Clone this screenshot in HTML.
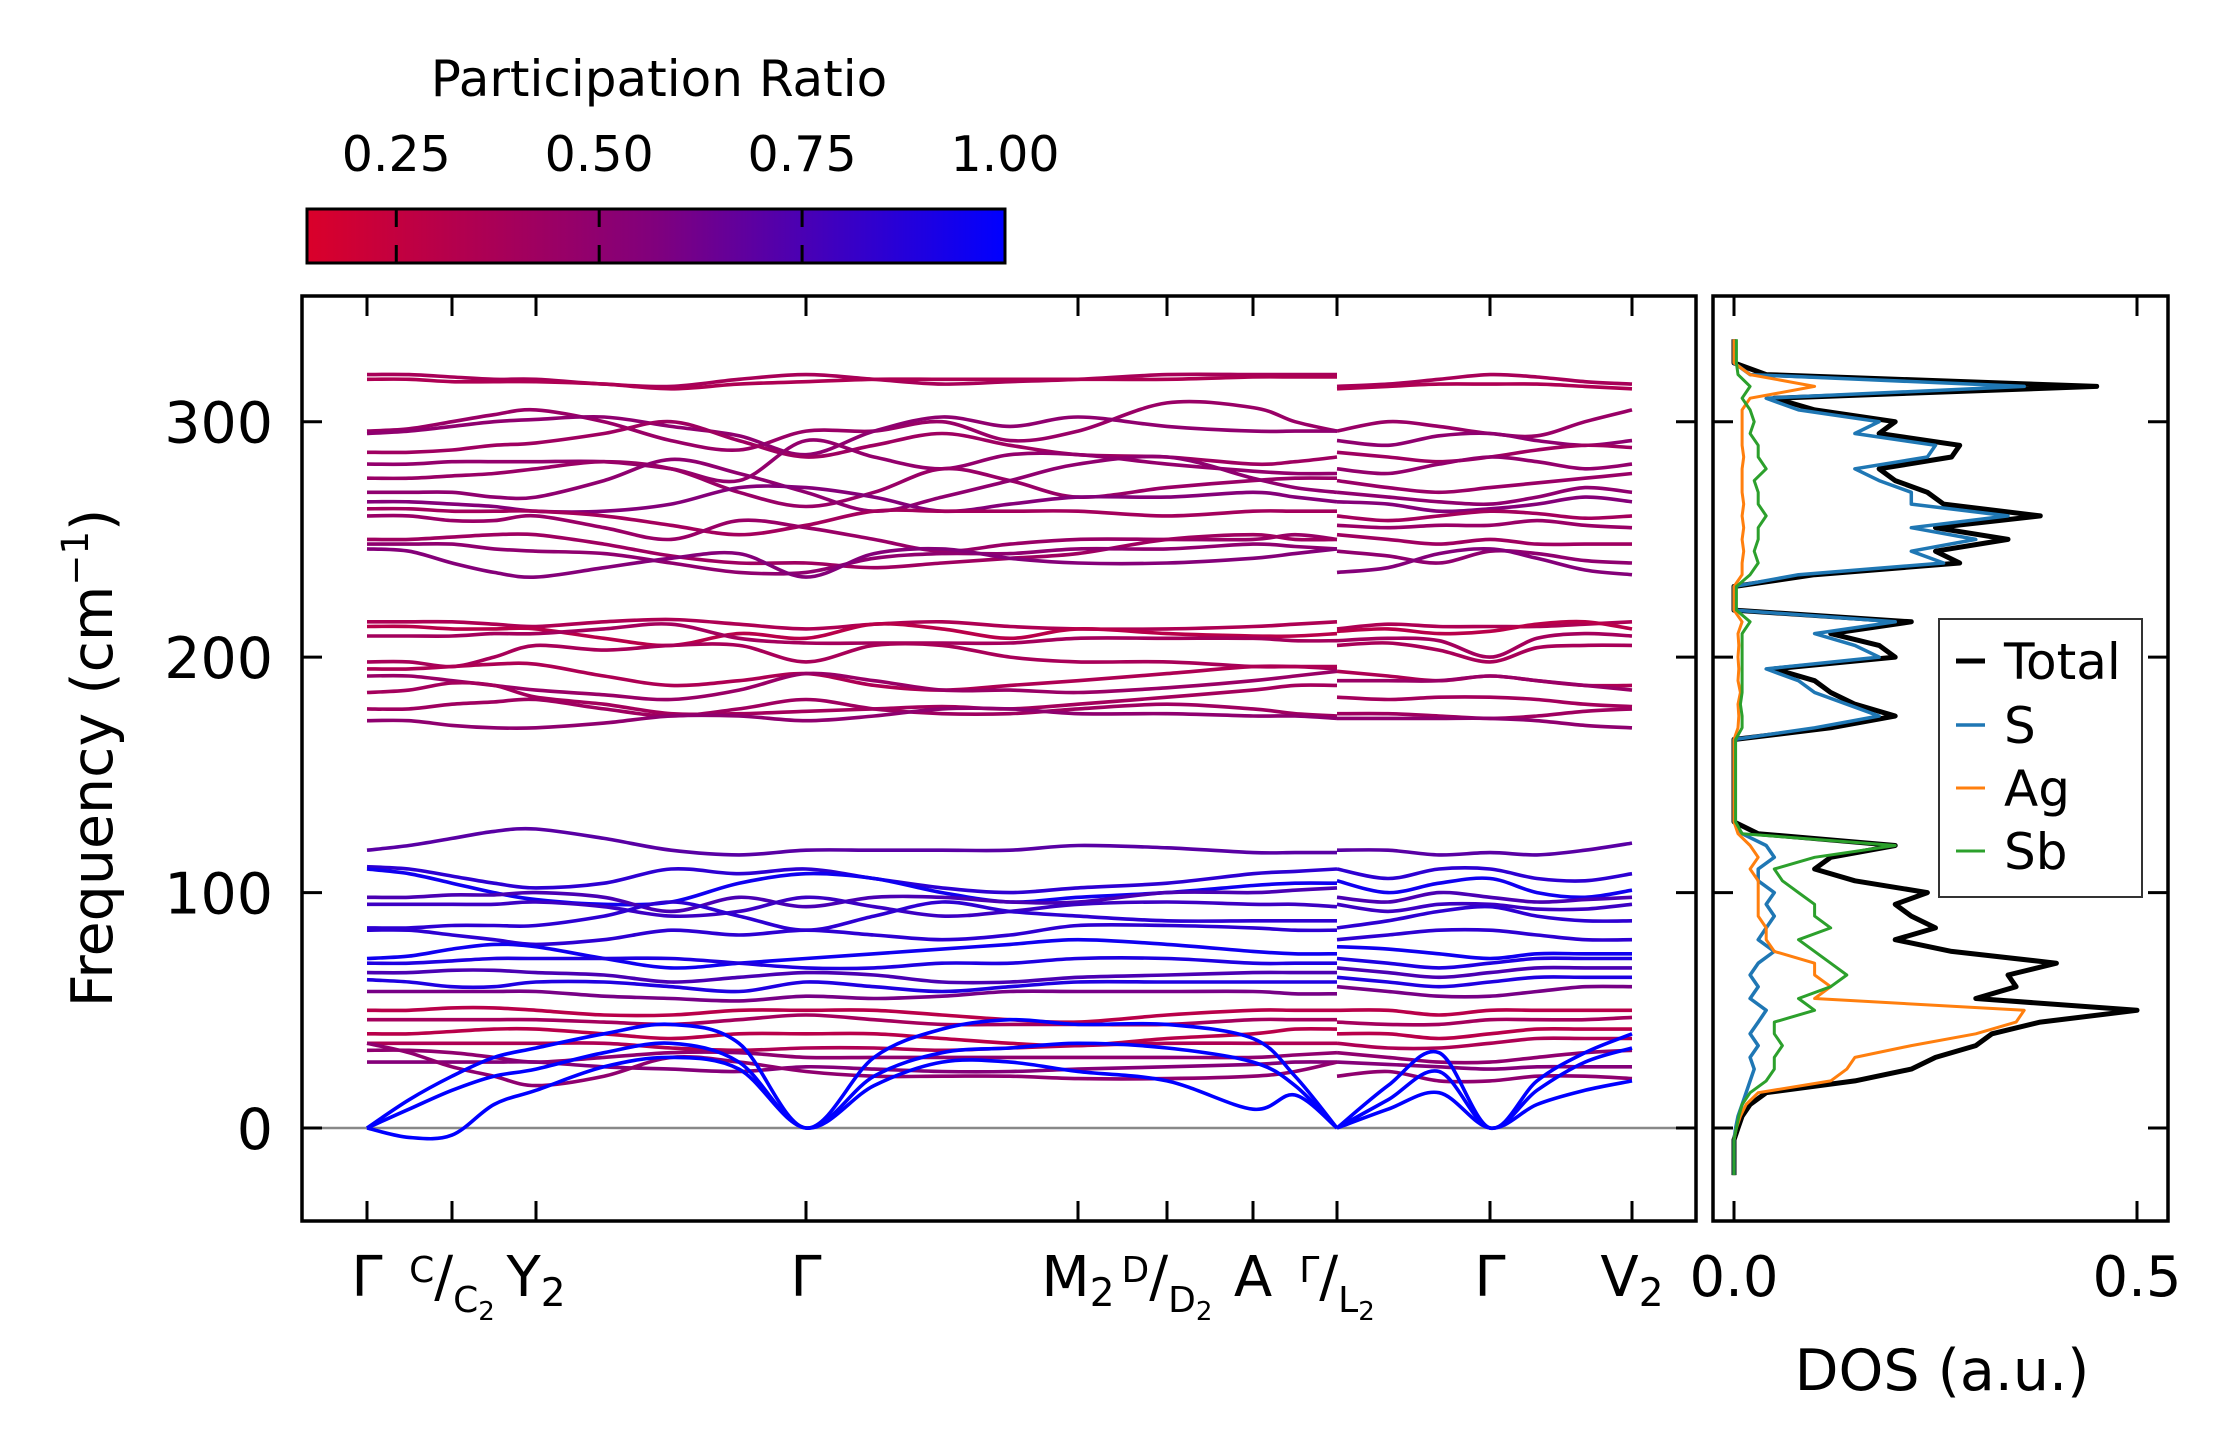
<!DOCTYPE html>
<html><head><meta charset="utf-8">
<style>
html,body{margin:0;padding:0;background:#fff;}
svg{display:block;font-family:"DejaVu Sans","Liberation Sans",sans-serif;}
</style></head>
<body>
<svg id="fig" width="2237" height="1455" viewBox="0 0 2237 1455" xmlns="http://www.w3.org/2000/svg">
<defs>
<linearGradient id="cmap" x1="0" x2="1" y1="0" y2="0">
<stop offset="0" stop-color="rgb(218,0,42)"/>
<stop offset="0.5" stop-color="rgb(128,0,125)"/>
<stop offset="1" stop-color="rgb(0,0,255)"/>
</linearGradient>
<clipPath id="clipMain"><rect x="302" y="296" width="1394" height="925"/></clipPath>
<clipPath id="clipDos"><rect x="1713" y="296" width="455" height="925"/></clipPath>
</defs>
<g id="colorbar">
<text x="659" y="96" font-size="50" text-anchor="middle">Participation Ratio</text>
<rect x="307" y="209" width="698" height="54" fill="url(#cmap)" stroke="#000" stroke-width="3"/>
<g id="cbticks"></g>
</g>
<g id="main"></g>
<g id="dos"></g>
<text transform="translate(112,758) rotate(-90)" font-size="57" text-anchor="middle">Frequency (cm<tspan font-size="37" dy="-24">−1</tspan><tspan dy="24">)</tspan></text>
<text x="1942" y="1390" font-size="57" text-anchor="middle">DOS (a.u.)</text>
</svg>
<script>
// ---- data ----
const cbTicks = [0.25, 0.50, 0.75, 1.00];
const cbMin = 0.14, cbMax = 1.0;
const yTicks = [0, 100, 200, 300];
const kTicks = [0, 85, 169, 439, 711, 800, 886, 970, 1123, 1265];
const kLabels = ["Γ", "C/C2", "Y2", "Γ", "M2", "D/D2", "A", "Γ/L2", "Γ", "V2"];
const kA = [0,42,85,127,169,237,304,372,439,507,575,643,711,800,886,928,970];
const kB = [970,1021,1072,1123,1170,1218,1265];
const bandPR = [0.38,0.35,0.45,0.5,0.42,0.48,0.45,0.5,0.55,0.4,0.45,0.42,0.5,0.55,
 0.35,0.3,0.4,0.38,0.35,0.45,0.4,0.42,0.5,
 0.7,0.85,0.95,0.75,0.8,0.85,0.85,0.95,0.9,0.75,0.9,0.6,0.3,0.4,0.3,0.35,0.5,0.55,0.5,
 1.0,1.0,1.0];
const bandsA = [
[320,320,319,318,318,316,315,318,320,318,316,317,318,320,320,320,320],
[318,318,317,317,317,316,314,316,317,318,318,318,318,318,319,319,319],
[296,297,300,303,305,300,292,288,296,296,300,292,296,308,306,300,296],
[295,296,298,300,301,302,298,294,286,296,302,298,302,298,296,296,296],
[287,287,288,290,291,295,300,292,285,290,295,290,286,285,282,283,285],
[282,282,283,283,283,283,280,275,292,285,280,286,286,282,279,278,278],
[276,276,277,278,280,283,280,270,264,270,280,275,268,272,275,276,276],
[270,270,270,268,268,275,284,278,270,262,268,275,282,285,276,272,270],
[266,266,265,264,262,262,265,272,272,268,262,265,268,268,270,268,266],
[263,263,262,262,262,260,256,252,256,262,262,262,262,260,262,262,262],
[260,260,258,258,260,255,250,258,255,250,245,248,250,250,250,252,250],
[250,250,251,252,252,248,243,240,240,238,240,242,244,250,252,250,250],
[248,248,248,246,245,244,240,236,236,242,244,244,246,246,248,247,246],
[246,245,240,236,234,238,242,244,234,244,246,242,240,240,242,244,246],
[215,215,215,214,213,215,216,214,212,214,215,213,212,212,213,214,215],
[213,213,212,212,212,208,205,210,208,214,212,208,212,210,209,209,210],
[209,209,209,210,210,212,214,208,206,206,206,206,208,208,208,207,207],
[198,198,196,200,205,203,205,205,198,205,205,200,198,198,196,196,195],
[195,195,196,197,197,192,188,190,193,188,186,188,190,193,196,196,196],
[192,192,190,188,186,184,182,186,193,190,186,186,185,187,190,192,194],
[185,186,189,188,183,180,176,176,177,178,179,178,180,183,186,188,188],
[178,178,180,181,182,178,175,178,182,178,176,176,178,180,178,176,175],
[173,173,171,170,170,172,175,175,173,175,178,178,176,176,175,175,174],
[118,120,123,126,127,123,118,116,118,118,118,118,120,119,117,117,117],
[111,110,107,104,102,104,110,108,110,106,102,100,102,104,108,109,110],
[110,108,104,100,97,95,96,104,108,106,100,96,98,100,103,104,104],
[98,98,99,99,100,98,92,98,94,98,98,96,96,100,100,101,102],
[95,95,95,95,96,94,90,92,98,94,90,92,95,96,95,95,94],
[85,85,86,86,86,90,96,90,84,90,96,92,90,88,88,88,88],
[84,84,82,80,78,80,84,82,84,82,80,82,86,86,85,84,84],
[72,73,76,78,77,72,68,70,72,74,76,78,80,78,75,74,74],
[70,70,71,72,72,72,72,70,68,68,70,70,72,72,70,70,70],
[66,66,67,67,66,65,62,64,66,65,62,62,64,65,66,66,66],
[63,62,60,60,62,62,60,58,62,60,58,60,62,62,62,62,62],
[58,58,58,58,58,56,55,54,56,55,56,58,58,58,58,57,57],
[50,50,51,51,50,48,48,50,50,50,48,46,45,48,50,50,50],
[46,46,46,46,46,45,44,46,48,46,44,44,44,44,46,46,46],
[40,40,41,42,42,40,38,40,40,40,38,36,35,38,40,42,42],
[36,36,36,36,36,36,34,33,34,34,33,34,35,36,36,36,36],
[33,33,32,30,28,30,32,32,30,30,30,30,30,30,30,31,32],
[28,28,28,28,28,26,25,24,26,25,24,24,25,26,27,28,28],
[36,32,26,22,18,22,30,28,24,22,22,22,21,21,22,24,28],
[0,-4,-3,10,16,26,30,25,0,18,28,28,24,20,8,14,0],
[0,8,16,22,25,32,36,28,0,22,32,34,36,34,28,18,0],
[0,12,22,30,34,40,44,36,0,30,42,46,44,44,38,22,0]
];
const bandsB = [
[315,316,318,320,319,317,316],[314,315,316,316,316,315,314],[296,300,298,295,294,300,305],
[292,290,294,295,292,290,292],[287,285,283,285,288,290,289],[280,278,282,285,283,280,282],
[275,272,270,272,274,276,278],[270,268,266,265,268,272,270],[266,265,262,263,265,268,266],
[260,258,260,262,261,259,260],[256,255,256,256,258,256,255],[252,250,248,250,248,248,248],
[245,243,240,245,244,241,240],[236,238,244,246,242,237,235],
[212,214,213,213,213,214,215],[211,212,210,211,214,215,212],[207,208,207,200,208,210,209],
[205,206,203,198,204,205,205],[194,192,190,192,190,188,188],[190,190,190,192,190,188,186],
[183,182,183,183,182,180,179],[176,176,175,174,175,177,178],[174,174,174,174,173,171,170],
[118,118,116,117,116,118,121],[110,106,110,110,106,105,108],[105,100,104,106,100,98,101],
[98,96,100,98,96,97,98],[95,92,95,95,93,93,95],[85,88,92,94,90,88,88],[80,82,84,84,82,80,80],
[77,76,74,72,74,74,74],[72,70,68,70,72,72,72],[68,66,64,66,68,68,68],[64,62,60,62,64,64,64],
[60,58,56,56,58,60,60],[50,50,48,50,50,50,50],[45,44,44,46,46,46,47],[40,40,38,40,42,42,42],
[36,34,34,36,38,38,38],[32,30,28,28,30,32,33],[28,27,26,25,26,26,26],[22,24,20,20,22,22,21],
[0,8,15,0,10,16,20],[0,12,24,0,16,28,34],[0,18,32,0,20,32,40]
];
// DOS: frequency grid -20..335 step 5
const dosFreq = [-20,-15,-10,-5,0,5,10,15,20,25,30,35,40,45,50,55,60,65,70,75,80,85,90,95,100,105,110,115,120,125,
130,135,140,145,150,155,160,165,170,175,180,185,190,195,200,205,210,215,220,225,230,
235,240,245,250,255,260,265,270,275,280,285,290,295,300,305,310,315,320,325,330,335];
const dosTotal = [0,0,0,0,0.005,0.01,0.02,0.04,0.15,0.22,0.25,0.3,0.32,0.38,0.5,0.3,0.35,0.34,0.4,0.27,0.2,0.25,0.22,0.2,0.24,0.15,0.1,0.12,0.2,0.03,
0,0,0,0,0,0,0,0,0.12,0.2,0.15,0.12,0.1,0.05,0.2,0.18,0.12,0.22,0,0,0,
0.1,0.28,0.25,0.34,0.25,0.38,0.26,0.24,0.2,0.18,0.27,0.28,0.18,0.2,0.1,0.05,0.45,0.04,0,0,0];
const dosS = [0,0,0,0,0.002,0.005,0.01,0.015,0.02,0.025,0.02,0.03,0.02,0.03,0.04,0.02,0.03,0.02,0.03,0.05,0.03,0.04,0.05,0.04,0.05,0.03,0.03,0.05,0.04,0.01,
0,0,0,0,0,0,0,0,0.1,0.18,0.14,0.1,0.08,0.04,0.18,0.15,0.1,0.2,0,0,0,
0.08,0.26,0.22,0.3,0.22,0.34,0.22,0.22,0.18,0.15,0.24,0.25,0.15,0.18,0.08,0.04,0.36,0.02,0,0,0];
const dosAg = [0,0,0,0,0.003,0.008,0.015,0.03,0.12,0.14,0.15,0.22,0.3,0.35,0.36,0.1,0.12,0.1,0.1,0.05,0.04,0.04,0.03,0.03,0.03,0.03,0.02,0.03,0.02,0.005,
0,0,0,0,0,0,0,0,0.005,0.006,0.005,0.008,0.005,0.006,0.005,0.006,0.005,0.01,0,0,0,
0.01,0.01,0.012,0.01,0.012,0.01,0.012,0.01,0.01,0.01,0.012,0.01,0.01,0.01,0.01,0.02,0.1,0.02,0,0,0];
const dosSb = [0,0,0,0,0.003,0.006,0.01,0.02,0.04,0.05,0.05,0.06,0.05,0.05,0.1,0.08,0.12,0.14,0.12,0.1,0.08,0.12,0.1,0.1,0.08,0.06,0.05,0.1,0.2,0.01,
0.002,0.002,0.002,0.002,0.002,0.002,0.002,0.002,0.01,0.01,0.008,0.01,0.01,0.01,0.01,0.01,0.01,0.02,0.003,0.003,0.003,
0.02,0.03,0.025,0.03,0.03,0.04,0.03,0.03,0.025,0.04,0.03,0.03,0.02,0.025,0.02,0.01,0.02,0.005,0.003,0.003,0.003];
const dosXTicks = [0.0, 0.5];
const legendNames = ["Total","S","Ag","Sb"];

// ---- scales ----
const NS = "http://www.w3.org/2000/svg";
const yMin = -39.5, yMax = 353.4, Ytop = 296, Ybot = 1221;
function sy(v){ return Ybot - (v - yMin) / (yMax - yMin) * (Ybot - Ytop); }
function sx(k){ return 367 + k; }
function dx(v){ return 1734 + v * 806; }
function cbx(v){ return 307 + (v - cbMin) / (cbMax - cbMin) * 698; }
function prColor(p){
  let t = Math.max(0, Math.min(1, (p - cbMin) / (cbMax - cbMin)));
  let r, b;
  if (t < 0.5){ r = 218 + (128-218)*t*2; b = 42 + (125-42)*t*2; }
  else { r = 128*(1-(t-0.5)*2); b = 125 + (255-125)*(t-0.5)*2; }
  return `rgb(${Math.round(r)},0,${Math.round(b)})`;
}
function mk(tag, attrs, parent){
  const e = document.createElementNS(NS, tag);
  for (const k in attrs) e.setAttribute(k, attrs[k]);
  parent.appendChild(e); return e;
}
function smoothPath(xs, ys){
  let d = `M${xs[0]},${ys[0].toFixed(1)}`;
  for (let i = 0; i < xs.length - 1; i++){
    const x0 = xs[Math.max(0,i-1)], y0 = ys[Math.max(0,i-1)];
    const x1 = xs[i], y1 = ys[i], x2 = xs[i+1], y2 = ys[i+1];
    const x3 = xs[Math.min(xs.length-1,i+2)], y3 = ys[Math.min(xs.length-1,i+2)];
    const c1x = x1 + (x2-x0)/6, c1y = y1 + (y2-y0)/6;
    const c2x = x2 - (x3-x1)/6, c2y = y2 - (y3-y1)/6;
    d += ` C${c1x.toFixed(1)},${c1y.toFixed(1)} ${c2x.toFixed(1)},${c2y.toFixed(1)} ${x2},${y2.toFixed(1)}`;
  }
  return d;
}

// ---- colorbar ticks ----
const cbt = document.getElementById('cbticks');
cbTicks.forEach((v, i) => {
  const x = cbx(v);
  if (i < cbTicks.length - 1){
    const l1 = mk('line', {x1:x, x2:x, y1:209, y2:227, stroke:'#000', 'stroke-width':3}, cbt);
    
    
    const l2 = mk('line', {x1:x, x2:x, y1:245, y2:263, stroke:'#000', 'stroke-width':3}, cbt);
    
    
  }
  const t = mk('text', {x:x, y:171, 'font-size':49, 'text-anchor':'middle'}, cbt);
  
  
  t.textContent = v.toFixed(2);
});

// ---- main band plot ----
const main = document.getElementById('main');
const zl = mk('line', {x1:302, x2:1696, y1:sy(0), y2:sy(0), stroke:'#888', 'stroke-width':2.5}, main);


const bandG = mk('g', {'clip-path':'url(#clipMain)'}, main);


bandsA.forEach((b, i) => {
  const p = mk('path', {d: smoothPath(kA.map(sx), b.map(sy)), fill:'none', stroke: prColor(bandPR[i]), 'stroke-width':3.6}, bandG);
  
  
});
bandsB.forEach((b, i) => {
  const p = mk('path', {d: smoothPath(kB.map(sx), b.map(sy)), fill:'none', stroke: prColor(bandPR[i]), 'stroke-width':3.6}, bandG);
  
  
});
const frame = mk('rect', {x:302, y:Ytop, width:1394, height:Ybot-Ytop, fill:'none', stroke:'#000', 'stroke-width':3.5}, main);


yTicks.forEach(v => {
  const y = sy(v);
  const a = mk('line', {x1:302, x2:322, y1:y, y2:y, stroke:'#000', 'stroke-width':3}, main);
  
  
  const b = mk('line', {x1:1676, x2:1696, y1:y, y2:y, stroke:'#000', 'stroke-width':3}, main);
  
  
  const t = mk('text', {x:273, y:y+21, 'font-size':57, 'text-anchor':'end'}, main);
  
  
  t.textContent = v;
});
kTicks.forEach((k, i) => {
  const x = sx(k);
  const a = mk('line', {x1:x, x2:x, y1:Ytop, y2:Ytop+20, stroke:'#000', 'stroke-width':3}, main);
  
  
  const b = mk('line', {x1:x, x2:x, y1:Ybot-20, y2:Ybot, stroke:'#000', 'stroke-width':3}, main);
  
  
  const lab = kLabels[i];
  const t = mk('text', {x:x, y:1296, 'font-size':56, 'text-anchor':'middle'}, main);
  
  
  if (lab.includes('/')){
    const [top, bot] = lab.split('/');
    const s1 = mk('tspan', {'font-size':36, dy:-14}, t); s1.textContent = top;
    const s2 = mk('tspan', {dy:14}, t); s2.textContent = '/';
    const s3 = mk('tspan', {'font-size':36, dy:16}, t); s3.textContent = bot[0];
    const s4 = mk('tspan', {'font-size':26, dy:8}, t); s4.textContent = bot.slice(1);
  } else if (lab.endsWith('2')){
    const s1 = mk('tspan', {}, t); s1.textContent = lab.slice(0,-1);
    const s2 = mk('tspan', {'font-size':39, dy:10}, t); s2.textContent = '2';
  } else {
    t.textContent = lab;
  }
});

// ---- DOS plot ----
const dos = document.getElementById('dos');
const dg = mk('g', {'clip-path':'url(#clipDos)'}, dos);


const series = [
  {vals: dosTotal, color:'#000000', w:5, name:'dos-total-line'},
  {vals: dosS, color:'#1f77b4', w:3.5, name:'dos-s-line'},
  {vals: dosAg, color:'#ff7f0e', w:3, name:'dos-ag-line'},
  {vals: dosSb, color:'#2ca02c', w:3, name:'dos-sb-line'}
];
series.forEach(s => {
  const pts = s.vals.map((v, i) => `${dx(v).toFixed(1)},${sy(dosFreq[i]).toFixed(1)}`).join(' ');
  const pl = mk('polyline', {points: pts, fill:'none', stroke:s.color, 'stroke-width':s.w, 'stroke-linejoin':'round'}, dg);
  
  
});
const dframe = mk('rect', {x:1713, y:Ytop, width:455, height:Ybot-Ytop, fill:'none', stroke:'#000', 'stroke-width':3.5}, dos);


yTicks.forEach(v => {
  const y = sy(v);
  const a = mk('line', {x1:1713, x2:1733, y1:y, y2:y, stroke:'#000', 'stroke-width':3}, dos);
  
  
  const b = mk('line', {x1:2148, x2:2168, y1:y, y2:y, stroke:'#000', 'stroke-width':3}, dos);
  
  
});
dosXTicks.forEach(v => {
  const x = dx(v);
  const a = mk('line', {x1:x, x2:x, y1:Ytop, y2:Ytop+20, stroke:'#000', 'stroke-width':3}, dos);
  
  
  const b = mk('line', {x1:x, x2:x, y1:Ybot-20, y2:Ybot, stroke:'#000', 'stroke-width':3}, dos);
  
  
  const t = mk('text', {x:x, y:1296, 'font-size':56, 'text-anchor':'middle'}, dos);
  
  
  t.textContent = v.toFixed(1);
});
// legend
const lg = mk('g', {}, dos);


const lbox = mk('rect', {x:1939, y:619, width:203, height:278, fill:'#fff', stroke:'#333', 'stroke-width':2}, lg);


const legY = [661, 725, 788, 851];
legendNames.forEach((n, i) => {
  const y = legY[i];
  const h = mk('line', {x1:1956, x2:1985, y1:y, y2:y, stroke:series[i].color, 'stroke-width':series[i].w}, lg);
  
  
  const t = mk('text', {x:2004, y:y+18, 'font-size':50}, lg);
  
  
  t.textContent = n;
});
</script>
</body></html>
